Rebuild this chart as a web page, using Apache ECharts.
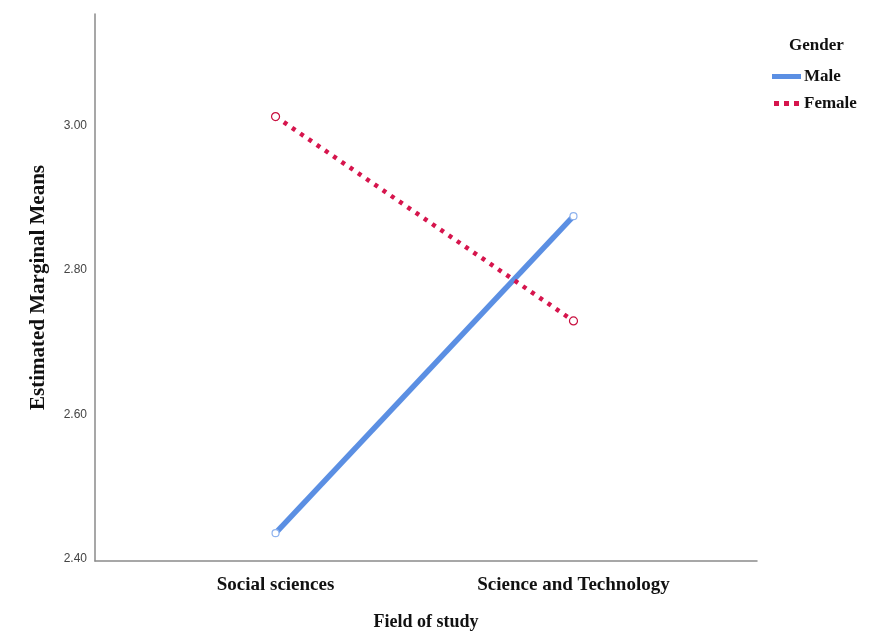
<!DOCTYPE html>
<html>
<head>
<meta charset="utf-8">
<script src="https://cdn.jsdelivr.net/npm/echarts@6/dist/echarts.min.js"></script>
<style>
html,body{margin:0;padding:0;background:#fff;}
#chart{width:883px;height:636px;}
</style>
</head>
<body>
<div id="chart"></div>
<script>
const categories = ['Social sciences', 'Science and Technology'];
const categoryPositions = [1, 2];
const maleValues = [2.433, 2.872];
const femaleValues = [3.010, 2.727];
const yTickValues = [2.40, 2.60, 2.80, 3.00];
const seriesNames = ['Male', 'Female'];

const serif = '"Liberation Serif", "DejaVu Serif", serif';
const sans = '"Liberation Sans", Arial, sans-serif';

const chart = echarts.init(document.getElementById('chart'), null, {renderer: 'canvas'});

function pairs(vals) {
  return vals.map((v, i) => [categoryPositions[i], v]);
}

const option = {
  backgroundColor: '#ffffff',
  animation: false,
  title: {
    text: 'Gender',
    left: 784,
    top: 32,
    textStyle: {fontFamily: serif, fontWeight: 'bold', fontSize: 17, color: '#111'}
  },
  legend: {
    orient: 'vertical',
    left: 772,
    top: 68,
    padding: 0,
    itemWidth: 29,
    itemHeight: 5,
    itemGap: 10,
    textStyle: {fontFamily: serif, fontWeight: 'bold', fontSize: 17, color: '#111', padding: [0, 0, 0, -2]},
    data: [
      {name: 'Male', icon: 'rect', itemStyle: {color: '#5b8fe3', borderWidth: 0}},
      {name: 'Female', icon: 'path://M0,0h3v3h-3z M6,0h3v3h-3z M12,0h3v3h-3z', itemStyle: {color: '#d6154d', borderWidth: 0}}
    ]
  },
  grid: {left: 95, right: 126, top: 14, bottom: 73, containLabel: false},
  xAxis: {
    type: 'value',
    min: 0.394,
    max: 2.616,
    name: 'Field of study',
    nameLocation: 'middle',
    nameGap: 52,
    nameTextStyle: {fontFamily: serif, fontWeight: 'bold', fontSize: 18, color: '#111'},
    axisLine: {show: true, lineStyle: {color: '#8a8a8a', width: 1.5}},
    axisTick: {show: false},
    splitLine: {show: false},
    axisLabel: {
      customValues: categoryPositions,
      formatter: function (v) {
        const idx = categoryPositions.indexOf(Math.round(v));
        return idx >= 0 ? categories[idx] : '';
      },
      margin: 15,
      fontFamily: serif, fontWeight: 'bold', fontSize: 19, color: '#111'
    }
  },
  yAxis: {
    type: 'value',
    min: 2.3945,
    max: 3.152,
    name: 'Estimated Marginal Means',
    nameLocation: 'middle',
    nameGap: 46,
    nameTextStyle: {fontFamily: serif, fontWeight: 'bold', fontSize: 21, color: '#111'},
    axisLine: {show: true, lineStyle: {color: '#8a8a8a', width: 1.5}},
    axisTick: {show: false},
    splitLine: {show: false},
    axisLabel: {
      customValues: yTickValues,
      formatter: function (v) { return '{t|' + v.toFixed(2) + '}'; },
      margin: 8,
      rich: {t: {padding: [4, 0, 0, 0], fontFamily: sans, fontSize: 12, color: '#444'}},
      fontFamily: sans, fontSize: 12, color: '#444'
    }
  },
  series: [
    {
      name: seriesNames[0],
      type: 'line',
      data: pairs(maleValues),
      symbol: 'circle',
      symbolSize: 7,
      lineStyle: {color: '#5b8fe3', width: 5.5},
      itemStyle: {color: '#ffffff', borderColor: '#8fb3ee', borderWidth: 1.2},
      z: 2
    },
    {
      name: seriesNames[1],
      type: 'line',
      data: pairs(femaleValues),
      symbol: 'circle',
      symbolSize: 8,
      lineStyle: {color: '#d6154d', width: 4.5, type: [4, 6]},
      itemStyle: {color: '#ffffff', borderColor: '#c8103f', borderWidth: 1.2},
      z: 3
    }
  ]
};
chart.setOption(option);
</script>
</body>
</html>
